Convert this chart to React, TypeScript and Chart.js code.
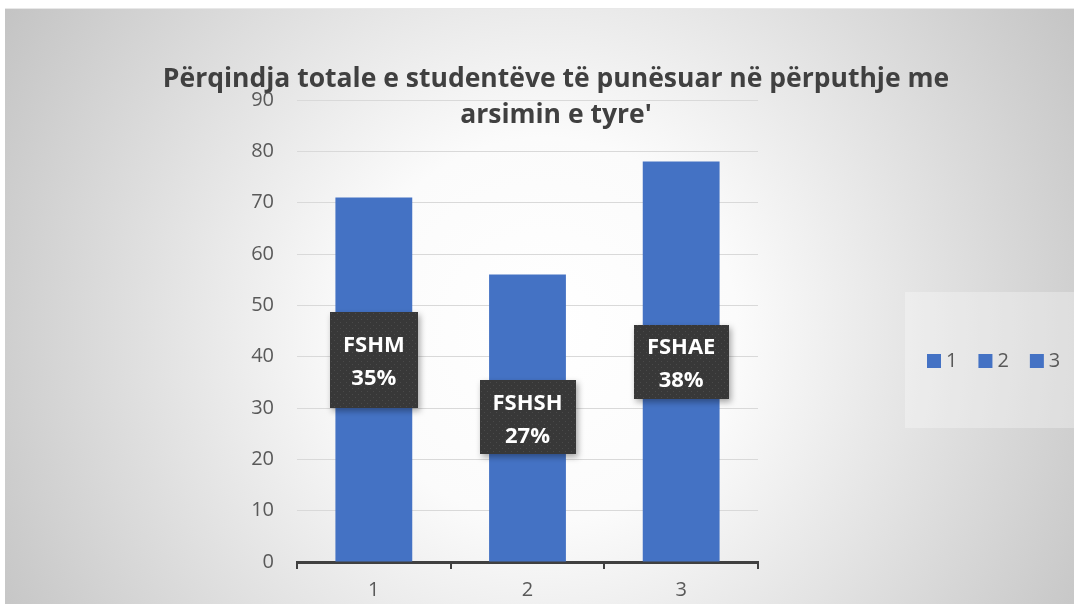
import React, { useEffect, useRef } from "react";
import { Chart, registerables } from "chart.js";

Chart.register(...registerables);

const categories = ["1", "2", "3"];
const values = [71, 56, 78];
const labelNames = ["FSHM", "FSHSH", "FSHAE"];
const labelPercents = ["35%", "27%", "38%"];
const labelAnchors = [39.4, 28.2, 39.0];
const titleLines = [
  "Përqindja totale e studentëve të punësuar në përputhje me",
  "arsimin e tyre'",
];
const yMin = 0;
const yMax = 90;
const yStep = 10;

const FONT = "'Open Sans', Lato, sans-serif";
const BAR = "#4472C4";
const TEXT = "#595959";

function makePattern(ctx: CanvasRenderingContext2D) {
  const c = document.createElement("canvas");
  c.width = 6;
  c.height = 6;
  const p = c.getContext("2d")!;
  p.fillStyle = "#383838";
  p.fillRect(0, 0, 6, 6);
  p.fillStyle = "#4a4a4a";
  p.fillRect(1, 1, 1, 1);
  p.fillRect(4, 4, 1, 1);
  return ctx.createPattern(c, "repeat");
}

function fitFont(ctx: CanvasRenderingContext2D, text: string, target: number, base: number, weight: string) {
  ctx.font = `${weight} ${base}px ${FONT}`;
  const w = ctx.measureText(text).width;
  const size = Math.max(18, Math.min(32, (base * target) / w));
  ctx.font = `${weight} ${size.toFixed(1)}px ${FONT}`;
}

const backgroundPlugin = {
  id: "bgPlugin",
  beforeDraw(chart: any) {
    const { ctx, width, height } = chart;
    ctx.save();
    ctx.fillStyle = "#ffffff";
    ctx.fillRect(0, 0, width, height);
    const g = ctx.createRadialGradient(545, 330, 0, 545, 330, 640);
    g.addColorStop(0, "#ffffff");
    g.addColorStop(0.3, "#fbfbfb");
    g.addColorStop(1, "#c2c2c2");
    ctx.fillStyle = g;
    ctx.fillRect(5, 9, width - 5, height - 9);
    ctx.fillStyle = "rgba(230,230,230,0.9)";
    ctx.fillRect(5, 8, width - 5, 1);
    // legend box
    ctx.fillStyle = "rgba(255,255,255,0.3)";
    ctx.fillRect(905, 292, width - 905, 136);
    ctx.restore();
  },
};

const overlayPlugin = {
  id: "overlayPlugin",
  afterDatasetsDraw(chart: any) {
    const { ctx } = chart;
    const meta = chart.getDatasetMeta(0);
    const yScale = chart.scales.y;
    const pattern = makePattern(ctx);
    const boxHeights = [96, 74, 74];
    ctx.save();
    ctx.font = `bold 22px ${FONT}`;
    meta.data.forEach((bar: any, i: number) => {
      const cx = bar.x;
      const cy = yScale.getPixelForValue(labelAnchors[i]);
      const tw = Math.max(
        ctx.measureText(labelNames[i]).width,
        ctx.measureText(labelPercents[i]).width
      );
      const w = Math.max(tw + 26, 88);
      const h = boxHeights[i];
      ctx.save();
      ctx.shadowColor = "rgba(0,0,0,0.35)";
      ctx.shadowBlur = 6;
      ctx.shadowOffsetX = 2;
      ctx.shadowOffsetY = 3;
      ctx.fillStyle = pattern || "#3a3a3a";
      ctx.fillRect(Math.round(cx - w / 2), Math.round(cy - h / 2), Math.round(w), h);
      ctx.restore();
      ctx.fillStyle = "#ffffff";
      ctx.textAlign = "center";
      ctx.textBaseline = "middle";
      ctx.fillText(labelNames[i], cx, cy - 14);
      ctx.fillText(labelPercents[i], cx, cy + 19);
    });
    ctx.restore();
  },
  afterDraw(chart: any) {
    const { ctx } = chart;
    ctx.save();
    // title
    ctx.fillStyle = "#404040";
    fitFont(ctx, titleLines[0], 785, 26, "bold");
    ctx.textAlign = "center";
    ctx.textBaseline = "alphabetic";
    ctx.fillText(titleLines[0], 556, 87);
    ctx.fillText(titleLines[1], 556, 123);
    // legend
    ctx.font = `20px ${FONT}`;
    ctx.textAlign = "left";
    ctx.textBaseline = "middle";
    let x = 927;
    categories.forEach((c) => {
      ctx.fillStyle = BAR;
      ctx.fillRect(x, 354, 14, 14);
      ctx.fillStyle = TEXT;
      ctx.fillText(c, x + 19, 361);
      x += 14 + 6 + ctx.measureText(c).width + 20;
    });
    ctx.restore();
  },
};

export default function App() {
  const ref = useRef<HTMLCanvasElement | null>(null);
  useEffect(() => {
    if (!ref.current) return;
    const chart = new Chart(ref.current, {
      type: "bar",
      data: {
        labels: categories,
        datasets: [
          {
            data: values,
            backgroundColor: BAR,
            barPercentage: 0.5,
            categoryPercentage: 1,
          },
        ],
      },
      options: {
        animation: false,
        responsive: false,
        devicePixelRatio: 1,
        layout: { padding: { top: 100, right: 316, bottom: 0, left: 0 } },
        plugins: {
          legend: { display: false },
          title: { display: false },
          tooltip: { enabled: false },
        },
        scales: {
          x: {
            offset: true,
            grid: {
              offset: true,
              drawOnChartArea: false,
              drawTicks: true,
              tickLength: 7,
              color: "#404040",
              lineWidth: 2,
            },
            border: { display: true, color: "#404040", width: 3 },
            ticks: {
              color: TEXT,
              font: { family: FONT, size: 20 },
              padding: 9,
            },
            afterFit(scale: any) {
              scale.height = 42;
            },
          },
          y: {
            min: yMin,
            max: yMax,
            ticks: {
              stepSize: yStep,
              color: TEXT,
              font: { family: FONT, size: 20 },
              padding: 23,
            },
            grid: { color: "#d9d9d9", lineWidth: 1, drawTicks: false },
            border: { display: false },
            afterFit(scale: any) {
              scale.width = 297;
            },
          },
        },
      },
      plugins: [backgroundPlugin, overlayPlugin],
    });
    return () => chart.destroy();
  }, []);
  return (
    <div style={{ position: "absolute", left: 0, top: 0, width: 1074, height: 604 }}>
      <canvas ref={ref} width={1074} height={604} style={{ display: "block" }} />
    </div>
  );
}
